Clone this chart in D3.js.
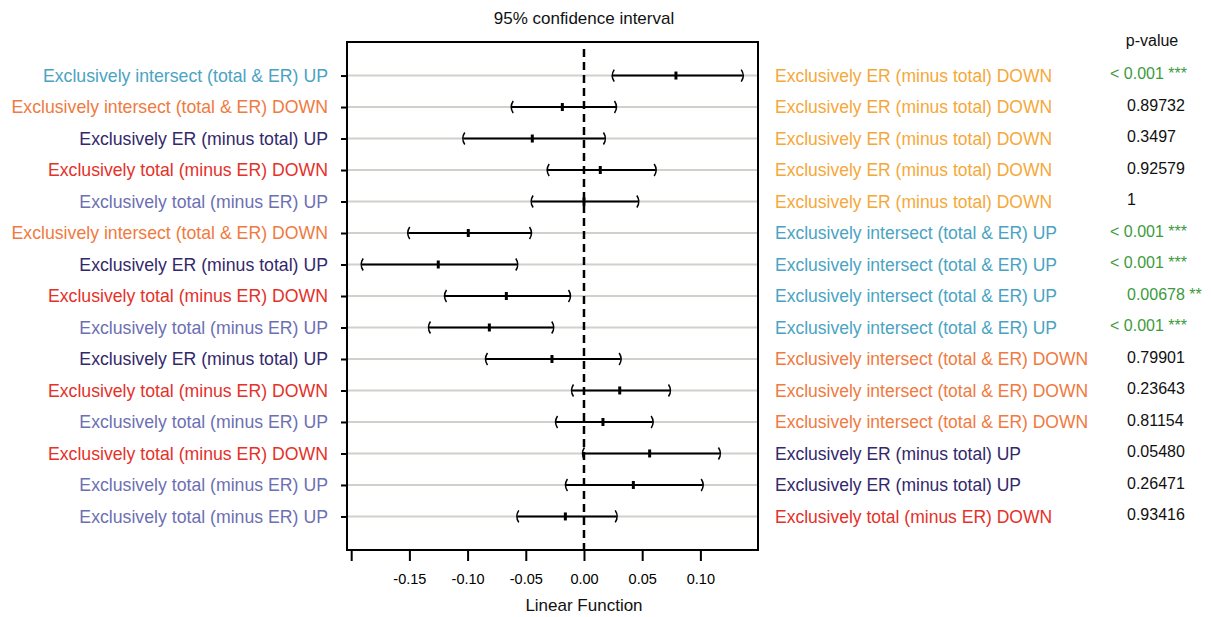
<!DOCTYPE html>
<html>
<head>
<meta charset="utf-8">
<script src="https://cdn.jsdelivr.net/npm/d3@7"></script>
<style>
  body{margin:0;background:#fff;}
  text{font-family:"Liberation Sans",Arial,sans-serif;}
</style>
</head>
<body>
<div id="chart"></div>
<script>
var w=1211;
var h=617;

// rows top to bottom
var leftLabels=[
  "Exclusively intersect (total & ER) UP",
  "Exclusively intersect (total & ER) DOWN",
  "Exclusively ER (minus total) UP",
  "Exclusively total (minus ER) DOWN",
  "Exclusively total (minus ER) UP",
  "Exclusively intersect (total & ER) DOWN",
  "Exclusively ER (minus total) UP",
  "Exclusively total (minus ER) DOWN",
  "Exclusively total (minus ER) UP",
  "Exclusively ER (minus total) UP",
  "Exclusively total (minus ER) DOWN",
  "Exclusively total (minus ER) UP",
  "Exclusively total (minus ER) DOWN",
  "Exclusively total (minus ER) UP",
  "Exclusively total (minus ER) UP"
];
var rightLabels=[
  "Exclusively ER (minus total) DOWN",
  "Exclusively ER (minus total) DOWN",
  "Exclusively ER (minus total) DOWN",
  "Exclusively ER (minus total) DOWN",
  "Exclusively ER (minus total) DOWN",
  "Exclusively intersect (total & ER) UP",
  "Exclusively intersect (total & ER) UP",
  "Exclusively intersect (total & ER) UP",
  "Exclusively intersect (total & ER) UP",
  "Exclusively intersect (total & ER) DOWN",
  "Exclusively intersect (total & ER) DOWN",
  "Exclusively intersect (total & ER) DOWN",
  "Exclusively ER (minus total) UP",
  "Exclusively ER (minus total) UP",
  "Exclusively total (minus ER) DOWN"
];
var estimates=[0.079,-0.0186,-0.0444,0.014,0.0,-0.0994,-0.1252,-0.0667,-0.0813,-0.0275,0.0307,0.0163,0.0564,0.0424,-0.016];
var lower=[0.0247,-0.0621,-0.1037,-0.0312,-0.045,-0.151,-0.191,-0.1194,-0.1332,-0.0842,-0.0103,-0.024,-0.0009,-0.0155,-0.0573];
var upper=[0.1364,0.0275,0.018,0.0616,0.0467,-0.0455,-0.0573,-0.012,-0.0264,0.0315,0.0739,0.059,0.1168,0.102,0.0281];
var pValues=["< 0.001 ***","0.89732","0.3497","0.92579","1","< 0.001 ***","< 0.001 ***","0.00678 **","< 0.001 ***","0.79901","0.23643","0.81154","0.05480","0.26471","0.93416"];
var xTicks=[-0.20,-0.15,-0.10,-0.05,0.00,0.05,0.10];

var groupColor={
  "Exclusively intersect (total & ER) UP":"#4aa3c2",
  "Exclusively intersect (total & ER) DOWN":"#f07a40",
  "Exclusively ER (minus total) UP":"#33286b",
  "Exclusively ER (minus total) DOWN":"#f5a83a",
  "Exclusively total (minus ER) DOWN":"#e4312a",
  "Exclusively total (minus ER) UP":"#6d6fb3"
};

var box={left:347,right:758,top:42,bottom:550};

var svg=d3.select("#chart").append("svg")
          .attr("width",w)
          .attr("height",h);

var x=d3.scaleLinear()
        .domain([-0.2036,0.1495])
        .range([box.left,box.right]);

var rows=d3.range(leftLabels.length);
var y=d3.scalePoint()
        .domain(rows)
        .range([box.top,box.bottom])
        .padding(1.065);

// grid lines
svg.append("g")
   .selectAll("line")
   .data(rows)
   .enter().append("line")
     .attr("x1",box.left).attr("x2",box.right)
     .attr("y1",function(d){return y(d);})
     .attr("y2",function(d){return y(d);})
     .attr("stroke","#d3cfcb")
     .attr("stroke-width",2);

// left axis ticks + labels
var yAxis=svg.append("g")
   .attr("transform","translate("+box.left+",0)")
   .call(d3.axisLeft(y).tickSize(6).tickPadding(13)
           .tickFormat(function(d){return leftLabels[d];}));
yAxis.select(".domain").remove();
yAxis.selectAll(".tick line").attr("stroke","#000").attr("stroke-width",2);
yAxis.selectAll(".tick text")
     .attr("font-size","17.7px")
     .attr("font-family","Liberation Sans, Arial, sans-serif")
     .attr("fill",function(d){return groupColor[leftLabels[d]];});

// bottom axis
var fmt=d3.format(".2f");
var xAxis=svg.append("g")
   .attr("transform","translate(0,"+box.bottom+")")
   .call(d3.axisBottom(x).tickValues(xTicks).tickSize(11).tickPadding(13)
           .tickFormat(function(d){return d<-0.19?"":fmt(d).replace("\u2212","-");}));
xAxis.select(".domain").remove();
xAxis.selectAll(".tick line").attr("stroke","#000").attr("stroke-width",2);
xAxis.selectAll(".tick text")
     .attr("font-size","14.5px")
     .attr("font-family","Liberation Sans, Arial, sans-serif")
     .attr("fill","#000");

// zero line
svg.append("line")
   .attr("x1",x(0)).attr("x2",x(0))
   .attr("y1",box.top+7).attr("y2",box.bottom)
   .attr("stroke","#000")
   .attr("stroke-width",2.5)
   .attr("stroke-dasharray","8,5");

// CI lines
var ci=svg.append("g").selectAll("g")
   .data(rows)
   .enter().append("g");

ci.append("line")
  .attr("x1",function(d){return x(lower[d]);})
  .attr("x2",function(d){return x(upper[d]);})
  .attr("y1",function(d){return y(d);})
  .attr("y2",function(d){return y(d);})
  .attr("stroke","#000")
  .attr("stroke-width",2);

ci.append("path")
  .attr("d",function(d){
    var lx=x(lower[d]),yy=y(d);
    return "M"+(lx+1.5)+","+(yy-6)+"Q"+(lx-2.5)+","+yy+" "+(lx+1.5)+","+(yy+6);
  })
  .attr("fill","none").attr("stroke","#000").attr("stroke-width",1.5);

ci.append("path")
  .attr("d",function(d){
    var ux=x(upper[d]),yy=y(d);
    return "M"+(ux-1.5)+","+(yy-6)+"Q"+(ux+2.5)+","+yy+" "+(ux-1.5)+","+(yy+6);
  })
  .attr("fill","none").attr("stroke","#000").attr("stroke-width",1.5);

ci.append("line")
  .attr("x1",function(d){return x(estimates[d]);})
  .attr("x2",function(d){return x(estimates[d]);})
  .attr("y1",function(d){return y(d)-4;})
  .attr("y2",function(d){return y(d)+4;})
  .attr("stroke","#000")
  .attr("stroke-width",3);

// frame
svg.append("rect")
   .attr("x",box.left).attr("y",box.top)
   .attr("width",box.right-box.left)
   .attr("height",box.bottom-box.top)
   .attr("fill","none")
   .attr("stroke","#000")
   .attr("stroke-width",2);

// right labels
svg.append("g").selectAll("text")
   .data(rows)
   .enter().append("text")
     .attr("x",775)
     .attr("y",function(d){return y(d);})
     .attr("dy","0.35em")
     .attr("font-size","17.5px")
     .attr("fill",function(d){return groupColor[rightLabels[d]];})
     .text(function(d){return rightLabels[d];});

// p-values
svg.append("text")
   .attr("x",1152).attr("y",40)
   .attr("dy","0.35em")
   .attr("text-anchor","middle")
   .attr("font-size","16px")
   .attr("fill","#111")
   .text("p-value");

svg.append("g").selectAll("text")
   .data(rows)
   .enter().append("text")
     .attr("x",function(d){return pValues[d][0]==="<"?1110:1127;})
     .attr("y",function(d){return y(d)-2;})
     .attr("dy","0.35em")
     .attr("font-size","16px")
     .attr("fill",function(d){return pValues[d].indexOf("*")>=0?"#3d9a3d":"#111";})
     .text(function(d){return pValues[d];});

// titles
svg.append("text")
   .attr("x",x(0)).attr("y",18)
   .attr("dy","0.35em")
   .attr("text-anchor","middle")
   .attr("font-size","17px")
   .attr("fill","#111")
   .text("95% confidence interval");

svg.append("text")
   .attr("x",x(0)).attr("y",605)
   .attr("dy","0.35em")
   .attr("text-anchor","middle")
   .attr("font-size","17px")
   .attr("fill","#111")
   .text("Linear Function");
</script>
</body>
</html>
